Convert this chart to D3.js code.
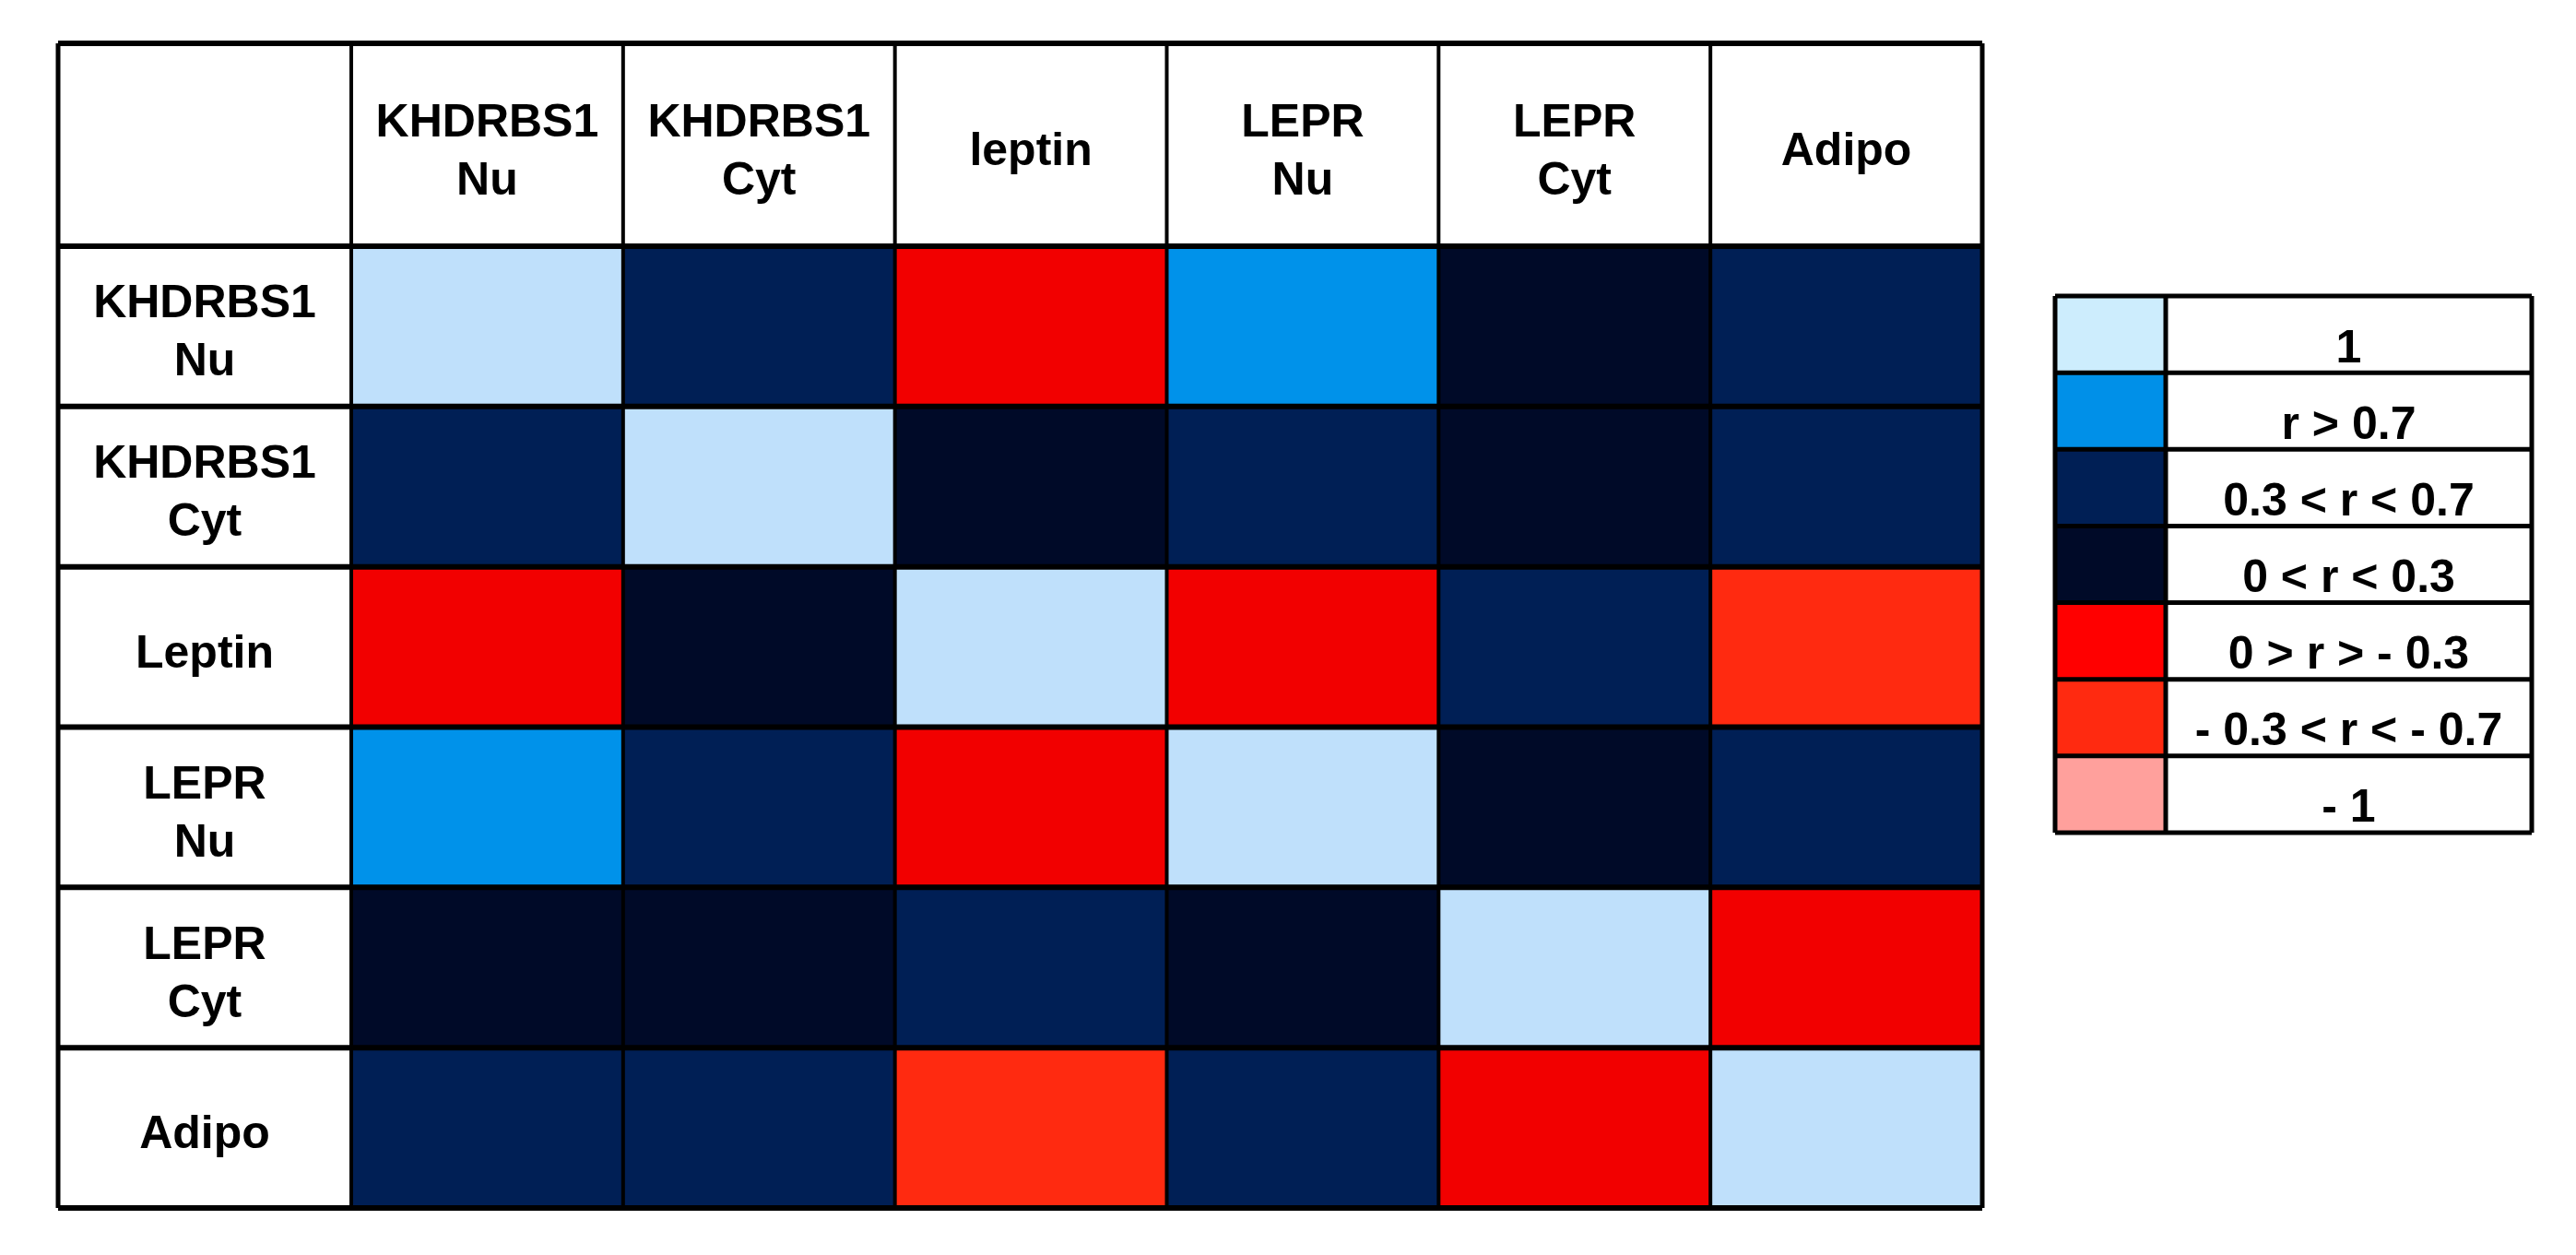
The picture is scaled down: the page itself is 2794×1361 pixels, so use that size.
<!DOCTYPE html>
<html>
<head>
<meta charset="utf-8">
<script src="https://cdn.jsdelivr.net/npm/d3@7"></script>
<style>
  body { margin: 0; background: #fff; }
  text { font-family: "Liberation Sans", Arial, sans-serif; font-weight: bold; fill: #000; }
</style>
</head>
<body>
<div id="chart"></div>
<script>
// Data
const rowLabels = ["KHDRBS1\nNu", "KHDRBS1\nCyt", "Leptin", "LEPR\nNu", "LEPR\nCyt", "Adipo"]
const colLabels = ["KHDRBS1\nNu", "KHDRBS1\nCyt", "leptin", "LEPR\nNu", "LEPR\nCyt", "Adipo"]
// correlation class of each cell, index into classLabels
const corrClass = [
  [0, 2, 4, 1, 3, 2],
  [2, 0, 3, 2, 3, 2],
  [4, 3, 0, 4, 2, 5],
  [1, 2, 4, 0, 3, 2],
  [3, 3, 2, 3, 0, 4],
  [2, 2, 5, 2, 4, 0]
]
const classLabels = ["1", "r > 0.7", "0.3 < r < 0.7", "0 < r < 0.3", "0 > r > - 0.3", "- 0.3 < r < - 0.7", "- 1"]
const classColors = ["#bfe0fb", "#0092ea", "#001f55", "#000a28", "#f20000", "#ff2a10", "#ffa09c"]
// the legend swatches are printed a little brighter than the cells
const legendColors = ["#cdedfd", "#0090e8", "#001f55", "#000a28", "#ff0000", "#ff2a10", "#ffa09c"]

// Dimensions
const width = 2794
const height = 1361
const tableLeft = 63
const tableTop = 47
const labelColRight = 381
const headerBottom = 267
const tableRight = 2150
const tableBottom = 1310
const legendLeft = 2229
const legendSwatchRight = 2349
const legendRight = 2746
const legendTop = 321
const legendBottom = 903
const fontSize = 50
const lineHeight = 63

const svg = d3.select("#chart")
  .append("svg")
    .attr("width", width)
    .attr("height", height)

const x = d3.scaleBand().domain(d3.range(colLabels.length)).range([labelColRight, tableRight])
const y = d3.scaleBand().domain(d3.range(rowLabels.length)).range([headerBottom, tableBottom])
const color = d3.scaleOrdinal().domain(d3.range(classLabels.length)).range(classColors)
const legendColor = d3.scaleOrdinal().domain(d3.range(classLabels.length)).range(legendColors)

const cells = []
corrClass.forEach(function(row, r) {
  row.forEach(function(c, k) { cells.push({row: r, col: k, cls: c}) })
})

// multi-line centred text
function addLines(sel, cx, cy, label, offset) {
  let lines = label.split("\n")
  let t = sel.append("text")
    .attr("text-anchor", "middle")
    .style("font-size", fontSize + "px")
  lines.forEach(function(line, i) {
    t.append("tspan")
      .attr("x", cx)
      .attr("y", cy + offset + (i - (lines.length - 1) / 2) * lineHeight)
      .text(line)
  })
}

// heatmap cells
svg.selectAll(".cell")
    .data(cells)
    .enter().append("rect")
    .attr("class", "cell")
    .attr("x", function(d) { return x(d.col) })
    .attr("y", function(d) { return y(d.row) })
    .attr("width", x.bandwidth())
    .attr("height", y.bandwidth())
    .attr("fill", function(d) { return color(d.cls) })

// header texts
colLabels.forEach(function(label, i) {
  addLines(svg, x(i) + x.bandwidth() / 2, (tableTop + headerBottom) / 2, label, 22)
})
rowLabels.forEach(function(label, i) {
  addLines(svg, (tableLeft + labelColRight) / 2, y(i) + y.bandwidth() / 2, label, 22)
})

// grid lines
const vLines = [tableLeft].concat(d3.range(colLabels.length).map(function(i) { return x(i) }), [tableRight])
const hLines = [tableTop].concat(d3.range(rowLabels.length).map(function(i) { return y(i) }), [tableBottom])

svg.selectAll(".vline")
    .data(vLines)
    .enter().append("line")
    .attr("x1", function(d) { return d })
    .attr("x2", function(d) { return d })
    .attr("y1", tableTop)
    .attr("y2", tableBottom)
    .attr("stroke", "#000")
    .attr("stroke-width", function(d, i) { return i == 0 || i == vLines.length - 1 ? 5 : 4 })

svg.selectAll(".hline")
    .data(hLines)
    .enter().append("line")
    .attr("x1", tableLeft)
    .attr("x2", tableRight)
    .attr("y1", function(d) { return d })
    .attr("y2", function(d) { return d })
    .attr("stroke", "#000")
    .attr("stroke-width", 6)

// legend
const ly = d3.scaleBand().domain(d3.range(classLabels.length)).range([legendTop, legendBottom])

const legend = svg.append("g")

legend.selectAll(".swatch")
    .data(classLabels)
    .enter().append("rect")
    .attr("x", legendLeft)
    .attr("y", function(d, i) { return ly(i) })
    .attr("width", legendSwatchRight - legendLeft)
    .attr("height", ly.bandwidth())
    .attr("fill", function(d, i) { return legendColor(i) })

legend.selectAll(".legend-label")
    .data(classLabels)
    .enter().append("text")
    .attr("x", (legendSwatchRight + legendRight) / 2)
    .attr("y", function(d, i) { return ly(i) + ly.bandwidth() / 2 + 30 })
    .attr("text-anchor", "middle")
    .style("font-size", fontSize + "px")
    .text(function(d) { return d })

legend.selectAll(".legend-hline")
    .data(d3.range(classLabels.length + 1))
    .enter().append("line")
    .attr("x1", legendLeft)
    .attr("x2", legendRight)
    .attr("y1", function(i) { return i < classLabels.length ? ly(i) : legendBottom })
    .attr("y2", function(i) { return i < classLabels.length ? ly(i) : legendBottom })
    .attr("stroke", "#000")
    .attr("stroke-width", 5)

legend.selectAll(".legend-vline")
    .data([legendLeft, legendSwatchRight, legendRight])
    .enter().append("line")
    .attr("x1", function(d) { return d })
    .attr("x2", function(d) { return d })
    .attr("y1", legendTop)
    .attr("y2", legendBottom)
    .attr("stroke", "#000")
    .attr("stroke-width", 5)
</script>
</body>
</html>
